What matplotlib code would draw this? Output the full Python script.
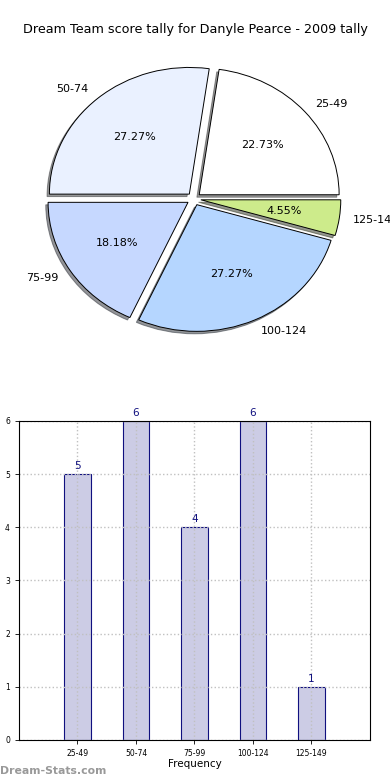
import matplotlib
matplotlib.use("Agg")
import matplotlib.pyplot as plt

TITLE = "Dream Team score tally for Danyle Pearce - 2009 tally"
INTERVALS = ["25-49", "50-74", "75-99", "100-124", "125-149"]
COUNTS = [5, 6, 4, 6, 1]
PIE_COLORS = ["#FFFFFF", "#EAF1FF", "#C6D8FF", "#B5D6FF", "#CDEB8B"]
BAR_FILL = "#CCCCE5"
BAR_EDGE = "#10107F"


def main():
    fig = plt.figure(figsize=(3.9, 7.8), dpi=100)
    fig.text(0.5, 0.962, TITLE, ha="center", va="center", fontsize=9.2)

    # pie on top (old style: stretched, exploded, shadowed)
    ax1 = fig.add_axes([0.0487, 0.542, 0.897, 0.406])
    ax1.pie(
        COUNTS,
        labels=INTERVALS,
        colors=PIE_COLORS,
        explode=[0.05] * len(COUNTS),
        autopct="%1.2f%%",
        shadow={"ox": -0.012, "oy": -0.014, "shade": 0.8},
        startangle=0,
        wedgeprops={"edgecolor": "black", "linewidth": 0.7},
        textprops={"fontsize": 8},
    )
    ax1.set_aspect("auto")
    ax1.set_xlim(-1.25, 1.25)
    ax1.set_ylim(-1.25, 1.25)

    # bar chart below
    ax2 = fig.add_axes([0.0487, 0.0513, 0.9, 0.409])
    x = list(range(len(COUNTS)))
    ax2.bar(x, COUNTS, width=0.45, color=BAR_FILL, edgecolor=BAR_EDGE,
            linewidth=0.8, zorder=2)
    for xi, c in zip(x, COUNTS):
        ax2.text(xi, c + 0.06, str(c), ha="center", va="bottom",
                 fontsize=7.5, color=BAR_EDGE)
    ax2.set_xlim(-1, 5)
    ax2.set_ylim(0, 6)
    ax2.set_xticks(x)
    ax2.set_xticklabels(INTERVALS)
    ax2.tick_params(labelsize=5.5, length=3, width=0.6)
    ax2.grid(True, linestyle=":", color="#C0C0C0", linewidth=1, zorder=3)
    ax2.set_axisbelow(False)
    for sp in ax2.spines.values():
        sp.set_zorder(4)
    ax2.set_xlabel("Frequency", fontsize=7.5, labelpad=1)
    ax2.set_ylabel("Stat intervals", fontsize=7.5, labelpad=2)

    fig.text(0.0, 0.012, "Dream-Stats.com", fontsize=7.8, color="#999999",
             fontweight="bold", ha="left", va="center")

    fig.savefig("out.png", dpi=100)


if __name__ == "__main__":
    main()
